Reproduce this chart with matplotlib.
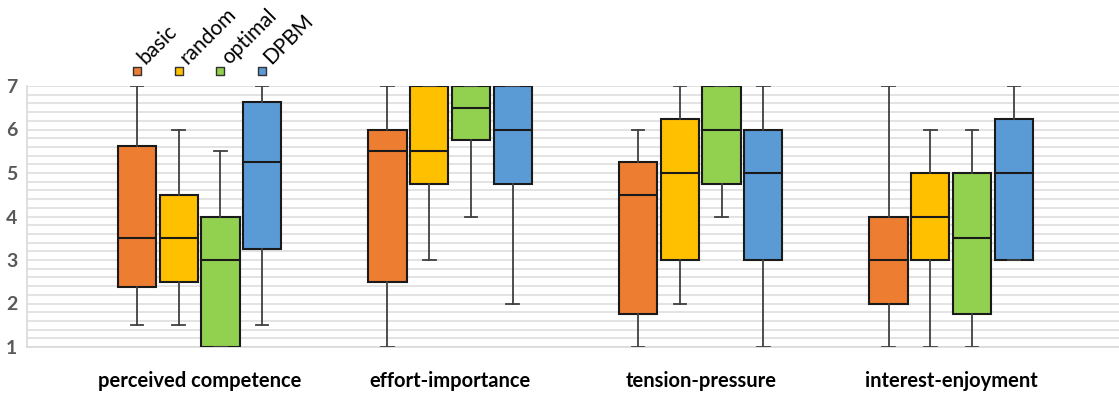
import matplotlib
matplotlib.use("Agg")
import matplotlib.pyplot as plt
import numpy as np

plt.rcParams['font.family'] = ['Lato', 'DejaVu Sans']

# Daten: Gruppen x Methoden
groups = ["perceived competence", "effort-importance", "tension-pressure", "interest-enjoyment"]
methods = ["basic", "random", "optimal", "DPBM"]
colors = ["#ED7D31", "#FFC000", "#92D050", "#5B9BD5"]

# je Methode: Werte für die vier Gruppen
whishi = {
    "basic":   [7, 7, 6, 7],
    "random":  [6, 7, 7, 6],
    "optimal": [5.5, 7, 7, 6],
    "DPBM":    [7, 7, 7, 7],
}
q3 = {
    "basic":   [5.625, 6, 5.25, 4],
    "random":  [4.5, 7, 6.25, 5],
    "optimal": [4, 7, 7, 5],
    "DPBM":    [6.625, 7, 6, 6.25],
}
med = {
    "basic":   [3.5, 5.5, 4.5, 3],
    "random":  [3.5, 5.5, 5, 4],
    "optimal": [3, 6.5, 6, 3.5],
    "DPBM":    [5.25, 6, 5, 5],
}
q1 = {
    "basic":   [2.375, 2.5, 1.75, 2],
    "random":  [2.5, 4.75, 3, 3],
    "optimal": [1, 5.75, 4.75, 1.75],
    "DPBM":    [3.25, 4.75, 3, 3],
}
whislo = {
    "basic":   [1.5, 1, 1, 1],
    "random":  [1.5, 3, 2, 1],
    "optimal": [1, 4, 4, 1],
    "DPBM":    [1.5, 2, 1, 3],
}

fig = plt.figure(figsize=(11.19, 3.94), dpi=100)
ax = fig.add_axes([27 / 1119, 47 / 394, 1 - 27 / 1119, 261 / 394])

offsets = [-0.25, -0.0833, 0.0833, 0.25]
for j, m in enumerate(methods):
    stats = []
    for i in range(len(groups)):
        stats.append({"med": med[m][i], "q1": q1[m][i], "q3": q3[m][i],
                      "whislo": whislo[m][i], "whishi": whishi[m][i]})
    pos = [i + offsets[j] for i in range(len(groups))]
    ax.bxp(stats, positions=pos, widths=0.152, showfliers=False, patch_artist=True,
           boxprops=dict(facecolor=colors[j], edgecolor="#1a1a1a", linewidth=1.5),
           medianprops=dict(color="#1a1a1a", linewidth=1.5),
           whiskerprops=dict(color="#404040", linewidth=1.3),
           capprops=dict(color="#404040", linewidth=1.3),
           capwidths=0.05, zorder=3)

ax.set_xlim(-0.689, 3.67)
ax.set_ylim(1, 7)
ax.set_yticks(range(1, 8))
ax.set_yticks(np.arange(1, 7.01, 0.2), minor=True)
ax.yaxis.grid(True, which="both", color="#e0e0e0", linewidth=1.3, zorder=0)
ax.set_axisbelow(True)
ax.tick_params(axis="y", which="both", length=0, labelsize=14, labelcolor="#595959", pad=7)
for t in ax.get_yticklabels():
    t.set_fontweight("bold")
ax.set_xticks(range(len(groups)))
ax.set_xticklabels(groups, fontsize=14.5, fontweight="bold")
ax.tick_params(axis="x", length=0, pad=17)
for s in ["top", "right"]:
    ax.spines[s].set_visible(False)
ax.spines["left"].set_color("#d9d9d9")
ax.spines["bottom"].set_color("#d9d9d9")
ax.spines["left"].set_linewidth(1.2)
ax.spines["bottom"].set_linewidth(1.2)

# Legende oben links, gedreht
for j, m in enumerate(methods):
    x = offsets[j]
    ax.scatter([x], [7.35], marker="s", s=32, color=colors[j], edgecolor="#333333",
               linewidth=1, clip_on=False, zorder=4)
    ax.text(x + 0.035, 7.48, m, rotation=45, fontsize=15,
            ha="left", va="baseline", rotation_mode="anchor", clip_on=False)

fig.savefig("out.png", dpi=100)
